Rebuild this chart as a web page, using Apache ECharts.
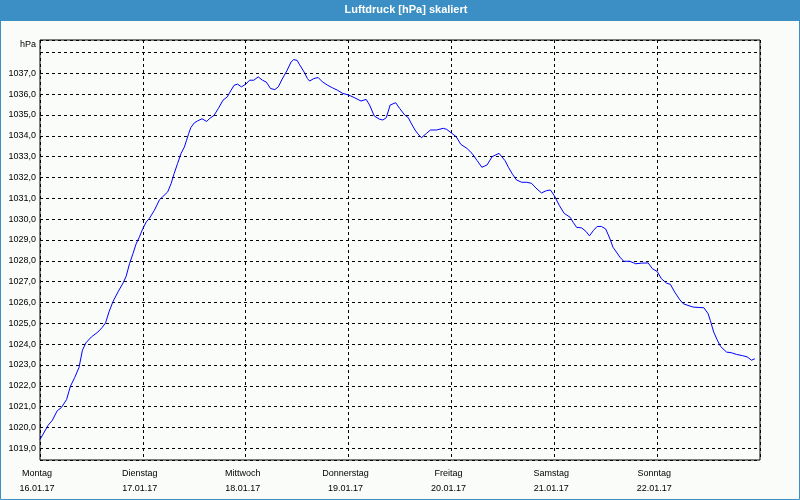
<!DOCTYPE html>
<html>
<head>
<meta charset="utf-8">
<script src="https://cdn.jsdelivr.net/npm/echarts@6/dist/echarts.min.js"></script>
<style>
html,body{margin:0;padding:0;background:#f9fcf9;}
#chart{width:800px;height:500px;}
</style>
</head>
<body>
<div id="chart"></div>
<script>
// hours since Montag 16.01.17 00:00
var hours = [0,1.9,2.9,4.0,5.0,6.2,7.1,8.1,9.1,9.9,10.7,12.0,13.5,14.5,15.3,16.1,17.0,18.2,19.4,20.1,20.9,21.7,22.4,23.2,24.0,24.8,25.5,26.7,27.9,28.6,29.8,30.6,31.3,32.1,32.9,33.7,34.2,34.7,35.2,36.0,36.8,37.8,38.9,39.5,40.6,41.6,42.7,43.7,44.5,45.3,46.1,47.0,48.0,48.9,49.9,50.9,51.9,52.8,53.8,54.8,55.6,56.5,57.6,58.6,59.2,60.0,60.5,61.6,62.4,62.9,63.9,64.9,65.9,67.1,68.2,69.4,70.6,72.0,73.3,74.9,76.1,76.9,78.0,79.2,80.0,80.8,81.7,83.0,83.9,85.1,85.9,86.7,87.5,88.2,89.0,90.2,91.1,92.5,94.1,94.9,96.1,97.1,98.2,99.6,100.8,102.0,103.1,104.3,105.5,107.1,108.5,109.3,110.3,111.2,112.4,113.6,114.7,115.7,117.0,118.2,119.1,120.0,121.2,122.3,123.7,124.4,125.2,126.4,127.4,128.2,129.1,130.0,131.0,132.0,133.0,133.7,134.5,135.3,136.2,137.6,139.0,140.3,141.9,142.9,144.0,145.0,146.2,147.1,148.1,149.3,150.1,151.2,152.4,153.8,154.9,155.9,156.4,157.2,158.0,158.8,160.2,161.3,162.5,163.9,165.0,166.0,166.8];
var pressure = [1019.42,1020.11,1020.35,1020.8,1020.96,1021.34,1021.98,1022.4,1022.88,1023.71,1024.06,1024.35,1024.58,1024.8,1025.02,1025.55,1026.03,1026.51,1026.94,1027.26,1027.87,1028.35,1028.8,1029.15,1029.55,1029.87,1030.03,1030.43,1030.94,1031.07,1031.31,1031.71,1032.19,1032.67,1033.15,1033.47,1033.79,1034.11,1034.4,1034.62,1034.72,1034.82,1034.69,1034.82,1034.98,1035.31,1035.71,1035.87,1036.16,1036.43,1036.48,1036.35,1036.48,1036.67,1036.67,1036.83,1036.67,1036.58,1036.27,1036.22,1036.35,1036.72,1037.12,1037.55,1037.66,1037.62,1037.44,1037.07,1036.75,1036.63,1036.75,1036.8,1036.59,1036.43,1036.31,1036.19,1036.04,1035.96,1035.84,1035.67,1035.75,1035.48,1034.95,1034.8,1034.76,1034.87,1035.48,1035.59,1035.32,1035.0,1034.88,1034.57,1034.28,1034.09,1033.91,1034.12,1034.28,1034.28,1034.36,1034.31,1034.12,1033.96,1033.59,1033.4,1033.16,1032.81,1032.49,1032.6,1033.0,1033.16,1032.81,1032.49,1032.14,1031.88,1031.77,1031.77,1031.72,1031.5,1031.26,1031.37,1031.4,1031.13,1030.65,1030.28,1030.09,1029.85,1029.61,1029.58,1029.41,1029.2,1029.45,1029.65,1029.65,1029.53,1029.05,1028.65,1028.42,1028.18,1027.98,1027.98,1027.86,1027.89,1027.9,1027.62,1027.49,1027.14,1026.93,1026.87,1026.5,1026.13,1025.94,1025.86,1025.78,1025.76,1025.75,1025.46,1025.14,1024.58,1024.21,1023.89,1023.62,1023.59,1023.51,1023.45,1023.39,1023.23,1023.3];
var dayNames = ['Montag','Dienstag','Mittwoch','Donnerstag','Freitag','Samstag','Sonntag'];
var dayDates = ['16.01.17','17.01.17','18.01.17','19.01.17','20.01.17','21.01.17','22.01.17'];
var yLabelValues = [1019,1020,1021,1022,1023,1024,1025,1026,1027,1028,1029,1030,1031,1032,1033,1034,1035,1036,1037];

var FONT = '"Liberation Sans", Arial, sans-serif';
var chart = echarts.init(document.getElementById('chart'), null, {renderer:'canvas'});
var seriesData = hours.map(function(h,i){return [h, pressure[i]];});

chart.setOption({
  animation: false,
  backgroundColor: '#f9fcf9',
  grid: {left:40, right:40, top:40, bottom:40, show:true, borderColor:'#000', borderWidth:1, backgroundColor:'transparent'},
  xAxis: {
    type:'value', min:0, max:168, interval:24,
    axisLine:{show:false}, axisTick:{show:false},
    splitLine:{show:true, lineStyle:{color:'#000', width:1, type:[3,3]}},
    axisLabel:{
      fontFamily:FONT, fontSize:9, color:'#000', margin:6, lineHeight:15,
      padding:[0,6,0,0],
      formatter:function(v){var i=Math.round(v/24); return i<dayNames.length ? dayNames[i]+'\n'+dayDates[i] : '';}
    }
  },
  yAxis: {
    type:'value', min:1018.44, max:1038.6, splitNumber:20, minInterval:1, maxInterval:1,
    axisLine:{show:false}, axisTick:{show:false},
    splitLine:{show:true, lineStyle:{color:'#000', width:1, type:[3,3]}},
    axisLabel:{
      fontFamily:FONT, fontSize:9, color:'#000', margin:4,
      showMinLabel:true, showMaxLabel:true,
      formatter:function(v){var r=Math.round(v*100)/100; return yLabelValues.indexOf(r)>=0 ? r.toFixed(1).replace('.',',') : '';}
    }
  },
  graphic: [
    {type:'rect', z:100, silent:true, shape:{x:0,y:0,width:800,height:21}, style:{fill:'#3b8fc4'}},
    {type:'rect', z:100, silent:true, shape:{x:0.5,y:0.5,width:799,height:499}, style:{fill:null, stroke:'#3b8fc4', lineWidth:1}},
    {type:'text', z:101, silent:true, x:406, y:10, style:{text:'Luftdruck [hPa] skaliert', fill:'#fff', font:'bold 11px '+FONT, textAlign:'center', textVerticalAlign:'middle'}},
    {type:'text', z:101, silent:true, x:36, y:45, style:{text:'hPa', fill:'#000', font:'9px '+FONT, textAlign:'right', textVerticalAlign:'middle'}}
  ],
  series: [{
    type:'line', data:seriesData, showSymbol:false, symbol:'none',
    lineStyle:{color:'#0000ff', width:1}, clip:true
  }]
});
</script>
</body>
</html>
